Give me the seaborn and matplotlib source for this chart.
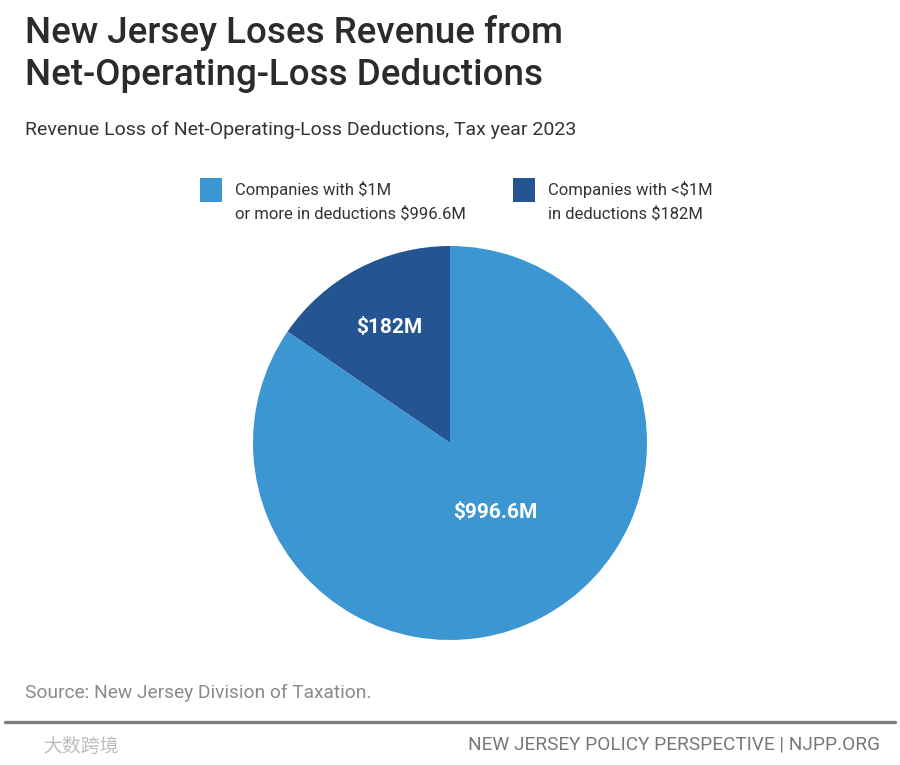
import matplotlib
matplotlib.use("Agg")
import matplotlib.pyplot as plt
import matplotlib.patches as mpatches
import numpy as np
import seaborn as sns

categories = ["Companies with <$1M\nin deductions $182M",
              "Companies with $1M\nor more in deductions $996.6M"]
values = [182.0, 996.6]
slice_labels = ["$182M", "$996.6M"]
colors = ["#245592", "#3c96d2"]

sns.set_theme(style="white")
plt.rcParams["font.family"] = ["Roboto", "DejaVu Sans"]

fig = plt.figure(figsize=(9, 7.65), dpi=100)
W, H = 900, 765

cx, cy, r = 450, 443, 197
ax = fig.add_axes([(cx - r) / W, (H - cy - r) / H, 2 * r / W, 2 * r / H])
wedges, _ = ax.pie(values, colors=colors, startangle=90, counterclock=True,
                   wedgeprops=dict(linewidth=0))
ax.set_xlim(-1, 1)
ax.set_ylim(-1, 1)
ax.axis("off")

# value labels inside wedges
for w, lab, dist in zip(wedges, slice_labels, [0.66, 0.42]):
    mid = np.deg2rad((w.theta1 + w.theta2) / 2)
    if lab == "$996.6M":
        mid = np.deg2rad(-57)
    ax.text(dist * np.cos(mid), dist * np.sin(mid), lab, color="white",
            fontsize=15, fontweight="bold", ha="center", va="center")

# title and subtitle
fig.text(25 / W, 1 - 15 / H, "New Jersey Loses Revenue from\nNet-Operating-Loss Deductions",
         fontsize=26.5, color="#2b2b2b", va="top", ha="left", linespacing=1.27,
         fontweight="medium")
fig.text(25 / W, 1 - 130 / H, "Revenue Loss of Net-Operating-Loss Deductions, Tax year 2023",
         fontsize=14, color="#333333", va="center", ha="left")

# legend (square aligned with the first text line)
legend_items = [(200, colors[1], categories[1]), (513, colors[0], categories[0])]
for x0, col, txt in legend_items:
    fig.add_artist(mpatches.Rectangle((x0 / W, 1 - 202 / H), 22 / W, 24 / H,
                                      transform=fig.transFigure, color=col, lw=0))
    fig.text((x0 + 35) / W, 1 - 181 / H, txt, fontsize=12, color="#333333",
             va="top", ha="left", linespacing=1.6)

# footer
fig.text(25 / W, 1 - 693 / H, "Source: New Jersey Division of Taxation.",
         fontsize=13.8, color="#8a8a8a", va="center", ha="left")
fig.add_artist(plt.Line2D([5 / W, 895 / W], [1 - 722 / H, 1 - 722 / H],
                          color="#7d7d7d", linewidth=2.4))
fig.text(880 / W, 1 - 745 / H, "NEW JERSEY POLICY PERSPECTIVE | NJPP.ORG",
         fontsize=13.7, color="#777777", va="center", ha="right")
fig.text(43 / W, 1 - 746 / H, "大数跨境", fontsize=13.6, color="#bdbdbd",
         va="center", ha="left", family=["Noto Sans CJK SC", "DejaVu Sans"])

fig.savefig("out.png", dpi=100, facecolor="white")
